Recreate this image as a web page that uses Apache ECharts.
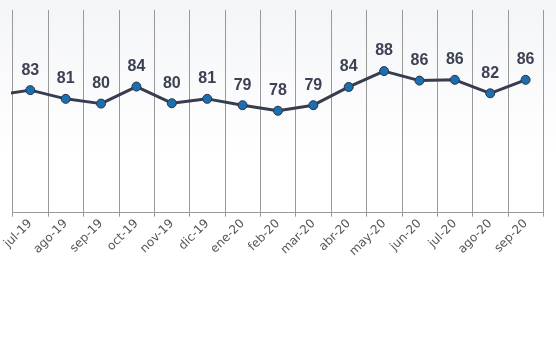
<!DOCTYPE html>
<html>
<head>
<meta charset="utf-8">
<script src="https://cdn.jsdelivr.net/npm/echarts@6/dist/echarts.min.js"></script>
<style>
html,body{margin:0;padding:0;background:#fff;}
#chart{width:556px;height:354px;}
</style>
</head>
<body>
<div id="chart"></div>
<script>
var categories = ['jul-19','ago-19','sep-19','oct-19','nov-19','dic-19','ene-20','feb-20','mar-20','abr-20','may-20','jun-20','jul-20','ago-20','sep-20'];
var values = [83.2, 81.0, 79.8, 84.1, 79.9, 81.0, 79.4, 78.0, 79.4, 84.0, 88.0, 85.6, 85.8, 82.4, 85.8];
var prevValue = 81.9; // earlier month, only its segment enters the plot

var chart = echarts.init(document.getElementById('chart'), null, {renderer: 'canvas'});
var lineStyle = {color: '#373d4f', width: 3};
chart.setOption({
  animation: false,
  backgroundColor: {
    type: 'linear', x: 0, y: 0, x2: 0, y2: 1,
    colorStops: [{offset: 0, color: '#f4f5f8'}, {offset: 0.45, color: '#ffffff'}, {offset: 1, color: '#ffffff'}]
  },
  grid: {left: 12.3, right: 12.7, top: 10, bottom: 141.3},
  xAxis: [{
    type: 'category',
    data: categories,
    boundaryGap: true,
    axisLine: {show: true, lineStyle: {color: '#999999', width: 1}},
    axisTick: {show: true, length: 4, lineStyle: {color: '#999999'}},
    splitLine: {show: true, interval: 0, lineStyle: {color: '#999999', width: 1}},
    axisLabel: {rotate: 45, interval: 0, color: '#555555', fontSize: 12, fontFamily: 'DejaVu Sans', margin: 9}
  }, {
    type: 'value', min: -0.5, max: 14.5, show: false
  }],
  yAxis: {
    type: 'value', min: 52.3, max: 103.4, show: false,
    splitLine: {show: false}
  },
  series: [{
    type: 'line',
    xAxisIndex: 1,
    data: [[-1, prevValue], [0, values[0]]],
    symbol: 'none',
    clip: true,
    lineStyle: lineStyle,
    silent: true,
    z: 2
  }, {
    type: 'line',
    xAxisIndex: 0,
    data: values,
    symbol: 'circle',
    symbolSize: 9,
    lineStyle: lineStyle,
    itemStyle: {color: '#1b6fb0', borderColor: '#2a3348', borderWidth: 1},
    label: {
      show: true, position: 'top', distance: 7,
      color: '#3c4253', fontSize: 16, fontWeight: 'bold', fontFamily: 'Liberation Sans',
      formatter: function (p) { return Math.round(p.value); }
    },
    z: 3
  }]
});
</script>
</body>
</html>
